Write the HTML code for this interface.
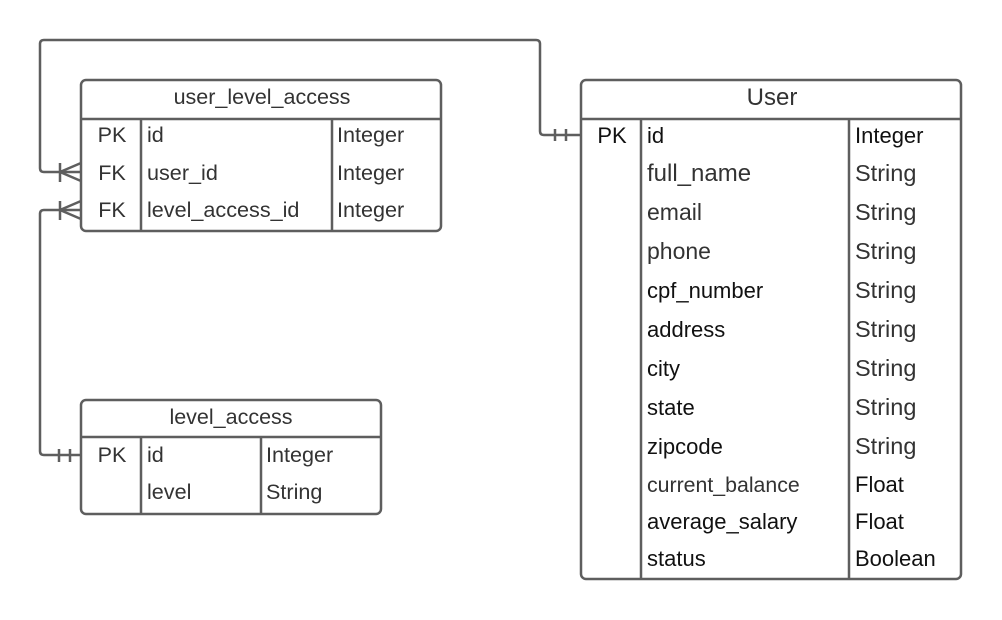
<!DOCTYPE html>
<html><head><meta charset="utf-8"><style>
html,body{margin:0;padding:0;background:#fff;width:1002px;height:620px;overflow:hidden}
svg text{font-family:"Liberation Sans",sans-serif;fill:#333}
</style></head><body>
<svg width="1002" height="620" viewBox="0 0 1002 620" xmlns="http://www.w3.org/2000/svg">
<g fill="none" stroke="#5e5e5e" stroke-width="2.5">
<path d="M581 135 H544 Q540 135 540 131 V44 Q540 40 536 40 H44 Q40 40 40 44 V168 Q40 172 44 172 H81"/>
<path d="M555 129 V141 M566 129 V141"/>
<path d="M60 163 V182 M60 172 L81 163 M60 172 L81 181"/>
<path d="M81 210 H44 Q40 210 40 214 V451 Q40 455 44 455 H81"/>
<path d="M60 201 V220 M60 210 L81 201 M60 210 L81 219"/>
<path d="M59 449 V462 M70 449 V462"/>
<rect x="81" y="80" width="360" height="151" rx="5"/>
<path d="M81 119 H441 M141 119 V231 M332 119 V231"/>
<rect x="581" y="80" width="380" height="499" rx="5"/>
<path d="M581 119 H961 M641 119 V579 M849 119 V579"/>
<rect x="81" y="400" width="300" height="114" rx="5"/>
<path d="M81 437 H381 M141 437 V514 M261 437 V514"/>
</g>
<g font-size="21.5">
<text x="262" y="104" text-anchor="middle">user_level_access</text>
<text x="772" y="105" text-anchor="middle" font-size="24">User</text>
<text x="231" y="424" text-anchor="middle">level_access</text>
</g>
<g font-size="21.6">
<text x="112" y="142" text-anchor="middle">PK</text><text x="147" y="142">id</text><text x="337" y="142">Integer</text>
<text x="112" y="180" text-anchor="middle">FK</text><text x="147" y="180">user_id</text><text x="337" y="180">Integer</text>
<text x="112" y="217" text-anchor="middle">FK</text><text x="147" y="217">level_access_id</text><text x="337" y="217">Integer</text>
<text x="112" y="462" text-anchor="middle">PK</text><text x="147" y="462">id</text><text x="266" y="462">Integer</text>
<text x="147" y="499">level</text><text x="266" y="499">String</text>
</g>
<g font-size="22">
<text x="612" y="143" text-anchor="middle" style="fill:#111">PK</text><text x="647" y="143" style="fill:#111">id</text><text x="855" y="143" style="fill:#111">Integer</text>
<text x="647" y="181" font-size="24">full_name</text><text x="855" y="181" font-size="23.5">String</text>
<text x="647" y="220" font-size="23">email</text><text x="855" y="220" font-size="23.5">String</text>
<text x="647" y="259" font-size="23">phone</text><text x="855" y="259" font-size="23.5">String</text>
<text x="647" y="298" style="fill:#111">cpf_number</text><text x="855" y="298" font-size="23.5">String</text>
<text x="647" y="337" style="fill:#111">address</text><text x="855" y="337" font-size="23.5">String</text>
<text x="647" y="376" style="fill:#111">city</text><text x="855" y="376" font-size="23.5">String</text>
<text x="647" y="415" style="fill:#111">state</text><text x="855" y="415" font-size="23.5">String</text>
<text x="647" y="454" style="fill:#111">zipcode</text><text x="855" y="454" font-size="23.5">String</text>
<text x="647" y="492" font-size="21.3">current_balance</text><text x="855" y="492" style="fill:#111">Float</text>
<text x="647" y="529" style="fill:#111">average_salary</text><text x="855" y="529" style="fill:#111">Float</text>
<text x="647" y="566" style="fill:#111">status</text><text x="855" y="566" style="fill:#111">Boolean</text>
</g>
</svg>
</body></html>
